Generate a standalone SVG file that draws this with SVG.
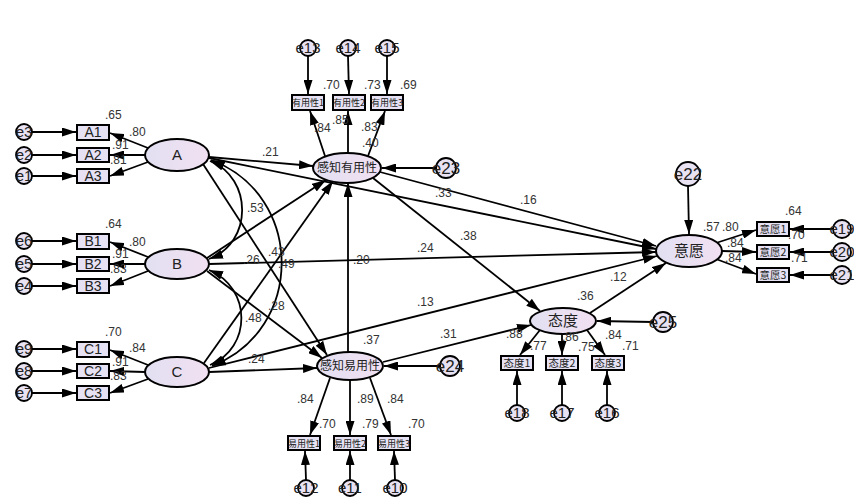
<svg xmlns="http://www.w3.org/2000/svg" width="854" height="500" viewBox="0 0 854 500">
<defs>
<linearGradient id="lg" x1="0" y1="0" x2="1" y2="0">
<stop offset="0" stop-color="#e2e0f2"/><stop offset="1" stop-color="#f1e0f1"/>
</linearGradient>
<marker id="ah" viewBox="0 0 14 9" refX="14" refY="4.5" markerWidth="14" markerHeight="9" markerUnits="userSpaceOnUse" orient="auto-start-reverse"><path d="M0,0 L14,4.5 L0,9 z" fill="#000"/></marker>
<style>
.c line,.c path{stroke:#000;stroke-width:1.8;fill:none;marker-end:url(#ah)}
.c .bi{marker-start:url(#ah)}
.lat{fill:url(#lg);stroke:#000;stroke-width:2}
.box{fill:#e6e2f4;stroke:#000;stroke-width:2}
.err{fill:#e8e2f2;stroke:#000;stroke-width:1.8}
.t{font-family:"Liberation Sans",Arial,sans-serif;fill:#222;text-anchor:middle}
.lt{font-size:15px}
.bt{font-size:14px}
.ct{font-family:"Noto Sans CJK SC","Liberation Sans",sans-serif;fill:#222;text-anchor:middle}
.et{font-size:15px}
.n{font-family:"Liberation Sans",Arial,sans-serif;font-size:12px;fill:#333}
</style>
</defs>
<rect width="854" height="500" fill="#fff"/>
<g id="connectors" class="c">
<line x1="32" y1="132" x2="76" y2="132"/><line x1="32" y1="155" x2="76" y2="155"/><line x1="32" y1="176" x2="76" y2="176"/>
<line x1="32" y1="241" x2="76" y2="241"/><line x1="32" y1="264" x2="76" y2="264"/><line x1="32" y1="286" x2="76" y2="286"/>
<line x1="32" y1="349" x2="76" y2="349"/><line x1="32" y1="371" x2="76" y2="371"/><line x1="32" y1="393" x2="76" y2="393"/>
<line x1="148" y1="148" x2="110" y2="133"/><line x1="145" y1="155" x2="110" y2="155"/><line x1="148" y1="162" x2="110" y2="176"/>
<line x1="148" y1="257" x2="110" y2="242"/><line x1="145" y1="264" x2="110" y2="264"/><line x1="148" y1="271" x2="110" y2="286"/>
<line x1="148" y1="365" x2="110" y2="350"/><line x1="145" y1="372" x2="110" y2="371"/><line x1="148" y1="379" x2="110" y2="393"/>
<line x1="308" y1="56" x2="308" y2="94"/><line x1="348" y1="56" x2="349" y2="94"/><line x1="387" y1="56" x2="387" y2="94"/>
<line x1="325" y1="156" x2="310" y2="111"/><line x1="348" y1="153" x2="348" y2="111"/><line x1="368" y1="156" x2="385" y2="111"/>
<line x1="330" y1="378" x2="310" y2="435"/><line x1="350" y1="380" x2="350" y2="435"/><line x1="370" y1="378" x2="391" y2="435"/>
<line x1="306" y1="480" x2="305" y2="451"/><line x1="350" y1="480" x2="350" y2="451"/><line x1="395" y1="480" x2="394" y2="451"/>
<line x1="540" y1="330" x2="520" y2="355"/><line x1="562" y1="334" x2="562" y2="355"/><line x1="587" y1="330" x2="605" y2="355"/>
<line x1="517" y1="405" x2="517" y2="371"/><line x1="562" y1="405" x2="562" y2="371"/><line x1="607" y1="405" x2="607" y2="371"/>
<line x1="716" y1="243" x2="756" y2="230"/><line x1="722" y1="251" x2="756" y2="252"/><line x1="716" y1="259" x2="756" y2="274"/>
<line x1="833" y1="229" x2="790" y2="229"/><line x1="833" y1="252" x2="790" y2="252"/><line x1="833" y1="275" x2="790" y2="275"/>
<line x1="688" y1="186" x2="689" y2="234"/>
<line x1="436" y1="168" x2="382" y2="168"/>
<line x1="440" y1="366" x2="384" y2="366"/>
<line x1="653" y1="322" x2="597" y2="321"/>
<line x1="209" y1="157" x2="313" y2="166"/>
<line x1="209" y1="158" x2="656" y2="249"/>
<line x1="203" y1="164" x2="327" y2="355"/>
<line x1="207" y1="258" x2="326" y2="180"/>
<line x1="204" y1="363" x2="333" y2="181"/>
<line x1="207" y1="271" x2="322" y2="358"/>
<line x1="209" y1="264" x2="656" y2="252"/>
<line x1="209" y1="372" x2="317" y2="368"/>
<line x1="209" y1="368" x2="657" y2="256"/>
<line x1="348" y1="352" x2="348" y2="183"/>
<line x1="380" y1="172" x2="656" y2="246"/>
<line x1="373" y1="178" x2="540" y2="311"/>
<line x1="383" y1="362" x2="531" y2="325"/>
<line x1="590" y1="313" x2="666" y2="263"/>
<path class="bi" d="M210,161 C253,178 253,243 209,259"/>
<path class="bi" d="M209,270 C252,288 252,348 210,365"/>
<path class="bi" d="M211,160 C305,195 305,330 212,366"/>
</g>
<g id="A"><ellipse class="lat" cx="177" cy="155" rx="32" ry="16"/><text class="t lt" x="177" y="160">A</text></g>
<g id="B"><ellipse class="lat" cx="177" cy="264" rx="32" ry="15"/><text class="t lt" x="177" y="269">B</text></g>
<g id="C"><ellipse class="lat" cx="177" cy="372" rx="32" ry="15"/><text class="t lt" x="177" y="377">C</text></g>
<g id="PU"><ellipse class="lat" cx="347" cy="168" rx="34" ry="15"/><text class="ct" font-size="12" x="347" y="172">感知有用性</text></g>
<g id="PEOU"><ellipse class="lat" cx="350" cy="366" rx="33" ry="14"/><text class="ct" font-size="12" x="350" y="370">感知易用性</text></g>
<g id="ATT"><ellipse class="lat" cx="563" cy="321" rx="33" ry="13"/><text class="ct" font-size="15" x="563" y="326">态度</text></g>
<g id="INT"><ellipse class="lat" cx="689" cy="251" rx="33" ry="16"/><text class="ct" font-size="15" x="689" y="256">意愿</text></g>
<g id="A1"><rect class="box" x="77" y="125" width="32" height="15"/><text class="t bt" x="93" y="137">A1</text></g>
<g id="A2"><rect class="box" x="77" y="148" width="32" height="14"/><text class="t bt" x="93" y="160">A2</text></g>
<g id="A3"><rect class="box" x="77" y="169" width="32" height="14"/><text class="t bt" x="93" y="181">A3</text></g>
<g id="B1"><rect class="box" x="77" y="234" width="32" height="15"/><text class="t bt" x="93" y="246">B1</text></g>
<g id="B2"><rect class="box" x="77" y="257" width="32" height="14"/><text class="t bt" x="93" y="269">B2</text></g>
<g id="B3"><rect class="box" x="77" y="279" width="32" height="14"/><text class="t bt" x="93" y="291">B3</text></g>
<g id="C1"><rect class="box" x="77" y="342" width="32" height="15"/><text class="t bt" x="93" y="354">C1</text></g>
<g id="C2"><rect class="box" x="77" y="364" width="32" height="14"/><text class="t bt" x="93" y="376">C2</text></g>
<g id="C3"><rect class="box" x="77" y="386" width="32" height="14"/><text class="t bt" x="93" y="398">C3</text></g>
<g id="PU1"><rect class="box" x="292" y="95" width="32" height="15"/><text class="ct" font-size="9" x="308" y="106">有用性1</text></g>
<g id="PU2"><rect class="box" x="333" y="95" width="32" height="15"/><text class="ct" font-size="9" x="349" y="106">有用性2</text></g>
<g id="PU3"><rect class="box" x="371" y="95" width="32" height="15"/><text class="ct" font-size="9" x="387" y="106">有用性3</text></g>
<g id="PEOU1"><rect class="box" x="288" y="436" width="32" height="14"/><text class="ct" font-size="9" x="304" y="446.5">易用性1</text></g>
<g id="PEOU2"><rect class="box" x="334" y="436" width="32" height="14"/><text class="ct" font-size="9" x="350" y="446.5">易用性2</text></g>
<g id="PEOU3"><rect class="box" x="378" y="436" width="32" height="14"/><text class="ct" font-size="9" x="394" y="446.5">易用性3</text></g>
<g id="ATT1"><rect class="box" x="501" y="356" width="32" height="14"/><text class="ct" font-size="10.5" x="517" y="367">态度1</text></g>
<g id="ATT2"><rect class="box" x="546" y="356" width="32" height="14"/><text class="ct" font-size="10.5" x="562" y="367">态度2</text></g>
<g id="ATT3"><rect class="box" x="592" y="356" width="32" height="14"/><text class="ct" font-size="10.5" x="608" y="367">态度3</text></g>
<g id="INT1"><rect class="box" x="757" y="222" width="32" height="14"/><text class="ct" font-size="10.5" x="773" y="233">意愿1</text></g>
<g id="INT2"><rect class="box" x="757" y="245" width="32" height="14"/><text class="ct" font-size="10.5" x="773" y="256">意愿2</text></g>
<g id="INT3"><rect class="box" x="757" y="268" width="32" height="14"/><text class="ct" font-size="10.5" x="773" y="279">意愿3</text></g>
<g id="e3"><circle class="err" cx="24" cy="132" r="8"/><text class="t et" x="24" y="137">e3</text></g>
<g id="e2"><circle class="err" cx="24" cy="155" r="8"/><text class="t et" x="24" y="160">e2</text></g>
<g id="e1"><circle class="err" cx="24" cy="176" r="8"/><text class="t et" x="24" y="181">e1</text></g>
<g id="e6"><circle class="err" cx="24" cy="241" r="8"/><text class="t et" x="24" y="246">e6</text></g>
<g id="e5"><circle class="err" cx="24" cy="264" r="8"/><text class="t et" x="24" y="269">e5</text></g>
<g id="e4"><circle class="err" cx="24" cy="286" r="8"/><text class="t et" x="24" y="291">e4</text></g>
<g id="e9"><circle class="err" cx="24" cy="349" r="8"/><text class="t et" x="24" y="354">e9</text></g>
<g id="e8"><circle class="err" cx="24" cy="371" r="8"/><text class="t et" x="24" y="376">e8</text></g>
<g id="e7"><circle class="err" cx="24" cy="393" r="8"/><text class="t et" x="24" y="398">e7</text></g>
<g id="e13"><circle class="err" cx="308" cy="48" r="8"/><text class="t et" x="308" y="53">e13</text></g>
<g id="e14"><circle class="err" cx="348" cy="48" r="8"/><text class="t et" x="348" y="53">e14</text></g>
<g id="e15"><circle class="err" cx="387" cy="48" r="8"/><text class="t et" x="387" y="53">e15</text></g>
<g id="e12"><circle class="err" cx="306" cy="488" r="8"/><text class="t et" x="306" y="493">e12</text></g>
<g id="e11"><circle class="err" cx="350" cy="488" r="8"/><text class="t et" x="350" y="493">e11</text></g>
<g id="e10"><circle class="err" cx="395" cy="488" r="8"/><text class="t et" x="395" y="493">e10</text></g>
<g id="e18"><circle class="err" cx="517" cy="413" r="8"/><text class="t et" x="517" y="418">e18</text></g>
<g id="e17"><circle class="err" cx="562" cy="413" r="8"/><text class="t et" x="562" y="418">e17</text></g>
<g id="e16"><circle class="err" cx="607" cy="413" r="8"/><text class="t et" x="607" y="418">e16</text></g>
<g id="e19"><circle class="err" cx="842" cy="229" r="9"/><text class="t et" x="842" y="234">e19</text></g>
<g id="e20"><circle class="err" cx="842" cy="252" r="9"/><text class="t et" x="842" y="257">e20</text></g>
<g id="e21"><circle class="err" cx="842" cy="275" r="9"/><text class="t et" x="842" y="280">e21</text></g>
<g id="e22"><circle class="err" cx="688" cy="174" r="12"/><text class="t" font-size="17" x="688" y="180">e22</text></g>
<g id="e23"><circle class="err" cx="446" cy="168" r="10"/><text class="t" font-size="17" x="446" y="174">e23</text></g>
<g id="e24"><circle class="err" cx="450" cy="366" r="10"/><text class="t" font-size="17" x="450" y="372">e24</text></g>
<g id="e25"><circle class="err" cx="663" cy="322" r="10"/><text class="t" font-size="17" x="663" y="328">e25</text></g>
<g id="labels" class="n">
<text x="105" y="119">.65</text><text x="129" y="136">.80</text><text x="112" y="149">.91</text><text x="110" y="164">.81</text>
<text x="105" y="228">.64</text><text x="129" y="246">.80</text><text x="112" y="258">.91</text><text x="110" y="273">.83</text>
<text x="105" y="336">.70</text><text x="129" y="352">.84</text><text x="112" y="366">.91</text><text x="110" y="380">.83</text>
<text x="323" y="89">.70</text><text x="364" y="89">.73</text><text x="400" y="89">.69</text>
<text x="314" y="132">.84</text><text x="332" y="124">.85</text><text x="361" y="131">.83</text><text x="362" y="147">.40</text>
<text x="297" y="403">.84</text><text x="357" y="403">.89</text><text x="387" y="403">.84</text>
<text x="319" y="428">.70</text><text x="362" y="428">.79</text><text x="408" y="428">.70</text>
<text x="262" y="156">.21</text><text x="247" y="212">.53</text><text x="268" y="256">.43</text>
<text x="243" y="264">.26</text><text x="278" y="268">.49</text><text x="353" y="264">.20</text>
<text x="268" y="310">.28</text><text x="245" y="322">.48</text><text x="248" y="363">.24</text><text x="363" y="344">.37</text>
<text x="435" y="197">.33</text><text x="520" y="204">.16</text><text x="460" y="240">.38</text><text x="417" y="252">.24</text>
<text x="417" y="306">.13</text><text x="610" y="281">.12</text><text x="577" y="300">.36</text><text x="440" y="338">.31</text>
<text x="506" y="338">.88</text><text x="530" y="350">.77</text><text x="562" y="341">.86</text><text x="578" y="351">.75</text>
<text x="605" y="339">.84</text><text x="622" y="350">.71</text>
<text x="703" y="231">.57</text><text x="722" y="231">.80</text><text x="727" y="247">.84</text><text x="725" y="262">.84</text>
<text x="785" y="215">.64</text><text x="788" y="239">.70</text><text x="791" y="262">.71</text>
</g>
</svg>
